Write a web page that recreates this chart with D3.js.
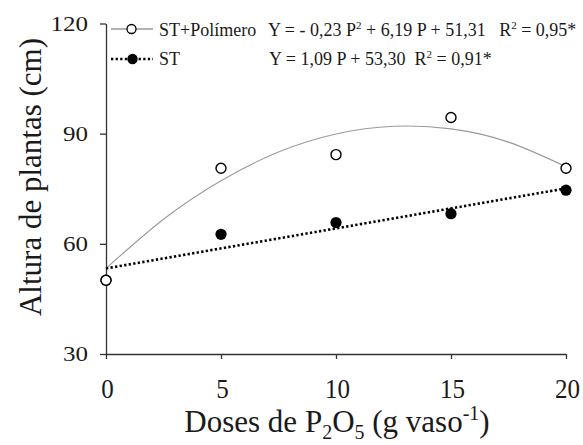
<!DOCTYPE html>
<html><head><meta charset="utf-8">
<script src="https://cdn.jsdelivr.net/npm/d3@7"></script>
<style>body{margin:0;background:#fff}svg{display:block}</style>
</head><body><svg id="c" width="583" height="445"></svg>
<script>
const doses = [0, 5, 10, 15, 20];
const stPolimero = [50.1, 80.6, 84.3, 94.4, 80.6];
const st = [50.1, 62.6, 65.8, 68.2, 74.6];
// fitted curves
const curveP = [0, 2.5, 5, 7.5, 10, 12.5, 15, 17.5, 20];
const curvePolimero = [53.3, 66.7, 77.2, 85.0, 89.9, 92.0, 91.3, 87.7, 81.0];
const lineP = [0, 20];
const lineST = [53.3, 75.1];
const xTicks = [0, 5, 10, 15, 20];
const yTicks = [30, 60, 90, 120];

const FONT = "'Liberation Serif', 'Times New Roman', serif";
const INK = "#1a1a1a";
const svg = d3.select("#c");
const x = d3.scaleLinear().domain([0, 20]).range([106, 566]);
const y = d3.scaleLinear().domain([30, 120]).range([354, 23.5]);

// axes
const gx = svg.append("g").attr("transform", "translate(0,354)")
  .call(d3.axisBottom(x).tickValues(xTicks).tickSize(5).tickPadding(0).tickSizeOuter(0));
const gy = svg.append("g").attr("transform", "translate(106,0)")
  .call(d3.axisLeft(y).tickValues(yTicks).tickSize(6).tickPadding(0).tickSizeOuter(0));
[gx, gy].forEach(g => {
  g.attr("font-family", null).attr("font-size", null);
  g.select(".domain").attr("stroke", "#333").attr("stroke-width", 1.3);
  g.selectAll(".tick line").attr("stroke", "#333").attr("stroke-width", 1.3);
  g.selectAll(".tick text").style("font-family", FONT).attr("fill", INK);
});
// x tick labels: baseline near y=398
gx.selectAll(".tick text").style("font-size", "25px")
  .attr("x", 1).attr("y", 44 / 1.08).attr("dy", 0).attr("transform", "scale(1,1.08)");
// y tick labels: right edge at x=88
gy.selectAll(".tick text").style("font-size", "25px")
  .attr("x", -18).attr("y", 0).attr("dy", "0.33em").attr("transform", "scale(1,0.84)");

function txt(sel) { return sel.append("text").style("font-family", FONT).attr("fill", INK); }

// axis titles
const xt = txt(svg.append("g").attr("transform", "translate(337,432)"))
  .attr("x", 0).attr("y", 0).attr("text-anchor", "middle").style("font-size", "31px");
xt.append("tspan").text("Doses de P");
xt.append("tspan").text("2").style("font-size", "20px").attr("dy", 7);
xt.append("tspan").text("O").attr("dy", -7);
xt.append("tspan").text("5").style("font-size", "20px").attr("dy", 7);
xt.append("tspan").text(" (g vaso").attr("dy", -7);
xt.append("tspan").text("-1").style("font-size", "20px").attr("dy", -12);
xt.append("tspan").text(")").attr("dy", 12);

txt(svg).attr("transform", "translate(41,177) rotate(-90)")
  .attr("text-anchor", "middle").style("font-size", "31px").text("Altura de plantas (cm)");

// curves
svg.append("path").datum(curveP.map((p, i) => [p, curvePolimero[i]]))
  .attr("fill", "none").attr("stroke", "#9a9a9a").attr("stroke-width", 1.1)
  .attr("d", d3.line().x(d => x(d[0])).y(d => y(d[1])).curve(d3.curveNatural));
svg.append("path").datum(lineP.map((p, i) => [p, lineST[i]]))
  .attr("fill", "none").attr("stroke", "#000").attr("stroke-width", 2.6)
  .attr("stroke-dasharray", "2.3 2.3")
  .attr("d", d3.line().x(d => x(d[0])).y(d => y(d[1])));

// points
svg.append("g").selectAll("circle").data(doses.map((d, i) => [d, st[i]])).join("circle")
  .attr("cx", d => x(d[0])).attr("cy", d => y(d[1])).attr("r", 5.6).attr("fill", "#000");
svg.append("g").selectAll("circle").data(doses.map((d, i) => [d, stPolimero[i]])).join("circle")
  .attr("cx", d => x(d[0])).attr("cy", d => y(d[1])).attr("r", 5).attr("fill", "#fff")
  .attr("stroke", "#000").attr("stroke-width", 1.4);

// legend
const lg = svg.append("g");
lg.append("line").attr("x1", 111).attr("x2", 153).attr("y1", 29).attr("y2", 29)
  .attr("stroke", "#666").attr("stroke-width", 1.1);
lg.append("circle").attr("cx", 131.5).attr("cy", 29).attr("r", 4.5).attr("fill", "#fff")
  .attr("stroke", "#000").attr("stroke-width", 1.3);
lg.append("line").attr("x1", 111).attr("x2", 153).attr("y1", 59).attr("y2", 59)
  .attr("stroke", "#000").attr("stroke-width", 2.6).attr("stroke-dasharray", "2.3 2.3");
lg.append("circle").attr("cx", 132.5).attr("cy", 59).attr("r", 5.2).attr("fill", "#000");

txt(lg).attr("x", 159).attr("y", 36).style("font-size", "18px").text("ST+Polímero");
txt(lg).attr("x", 159).attr("y", 65).style("font-size", "18px").text("ST");

const e1 = txt(lg).attr("x", 268).attr("y", 36).style("font-size", "18px").style("white-space", "pre");
e1.append("tspan").text("Y = - 0,23 P");
e1.append("tspan").text("2").style("font-size", "11px").attr("dy", -7);
e1.append("tspan").text(" + 6,19 P + 51,31   R").attr("dy", 7);
e1.append("tspan").text("2").style("font-size", "11px").attr("dy", -7);
e1.append("tspan").text(" = 0,95*").attr("dy", 7);

const e2 = txt(lg).attr("x", 269).attr("y", 65).style("font-size", "18px").style("white-space", "pre");
e2.append("tspan").text("Y = 1,09 P + 53,30  R");
e2.append("tspan").text("2").style("font-size", "11px").attr("dy", -7);
e2.append("tspan").text(" = 0,91*").attr("dy", 7);
</script></body></html>
